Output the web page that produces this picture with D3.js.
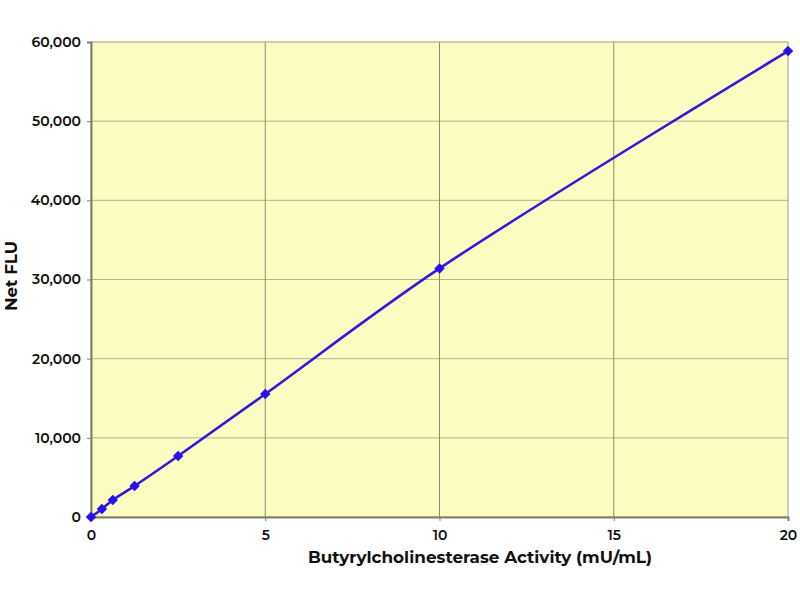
<!DOCTYPE html>
<html><head><meta charset="utf-8">
<script src="https://cdn.jsdelivr.net/npm/d3@7"></script>
<style>body{margin:0;background:#fff}svg{display:block}text{font-family:"Montserrat","Lato","Open Sans",sans-serif}</style>
</head><body><svg id="c" width="800" height="600"></svg>
<script>
const activity = [0, 0.3125, 0.625, 1.25, 2.5, 5, 10, 20];
const netFLU = [0, 1010, 2150, 3920, 7700, 15530, 31400, 58850];
const xTicks = [0, 5, 10, 15, 20];
const yTicks = [0, 10000, 20000, 30000, 40000, 50000, 60000];
const xLabel = "Butyrylcholinesterase Activity (mU/mL)";
const yLabel = "Net FLU";

const svg = d3.select("#c");
const m = {l: 91, r: 12, t: 42, b: 83};
const W = 800 - m.l - m.r, H = 600 - m.t - m.b;
const x = d3.scaleLinear().domain([0, 20]).range([m.l, m.l + W]);
const y = d3.scaleLinear().domain([0, 60000]).range([m.t + H, m.t]);

svg.append("rect").attr("x", m.l).attr("y", m.t).attr("width", W).attr("height", H).attr("fill", "#fafcc2");

svg.append("g").selectAll("line").data(yTicks.slice(1, -1)).join("line")
  .attr("x1", m.l).attr("x2", m.l + W).attr("y1", d => y(d)).attr("y2", d => y(d))
  .attr("stroke", "#b4b48a").attr("stroke-width", 1);
svg.append("g").selectAll("line").data(xTicks.slice(1, -1)).join("line")
  .attr("y1", m.t).attr("y2", m.t + H).attr("x1", d => x(d)).attr("x2", d => x(d))
  .attr("stroke", "#8c8c68").attr("stroke-width", 1);

svg.append("rect").attr("x", m.l).attr("y", m.t).attr("width", W).attr("height", H)
  .attr("fill", "none").attr("stroke", "#9a9a80").attr("stroke-width", 1);

const fmt = d3.format(",");
const yAxis = svg.append("g").attr("transform", `translate(${m.l},0)`)
  .call(d3.axisLeft(y).tickValues(yTicks).tickFormat(fmt).tickSize(4).tickPadding(6));
const xAxis = svg.append("g").attr("transform", `translate(0,${m.t + H})`)
  .call(d3.axisBottom(x).tickValues(xTicks).tickSize(4).tickPadding(9));
[yAxis, xAxis].forEach(a => {
  a.select(".domain").attr("stroke", "#7d8068").attr("stroke-width", 2);
  a.selectAll(".tick line").attr("stroke", "#7d8068");
  a.selectAll("text").attr("fill", "#111").attr("font-size", 14).attr("font-weight", 600);
});

const line = d3.line().x((d, i) => x(activity[i])).y(d => y(d)).curve(d3.curveCatmullRom.alpha(0.5));
svg.append("path").datum(netFLU).attr("d", line).attr("fill", "none")
  .attr("stroke", "#3418d8").attr("stroke-width", 2.6);

svg.append("g").selectAll("path").data(netFLU).join("path")
  .attr("d", d3.symbol().type(d3.symbolDiamond2).size(70))
  .attr("transform", (d, i) => `translate(${x(activity[i])},${y(d)})`)
  .attr("fill", "#2a10f0");

svg.append("text").attr("x", 480).attr("y", 563).attr("text-anchor", "middle")
  .attr("font-size", 16.8).attr("font-weight", 700).attr("fill", "#111").text(xLabel);
svg.append("text").attr("transform", `translate(17,276) rotate(-90)`).attr("text-anchor", "middle")
  .attr("font-size", 16.8).attr("font-weight", 700).attr("fill", "#111").text(yLabel);
</script></body></html>
